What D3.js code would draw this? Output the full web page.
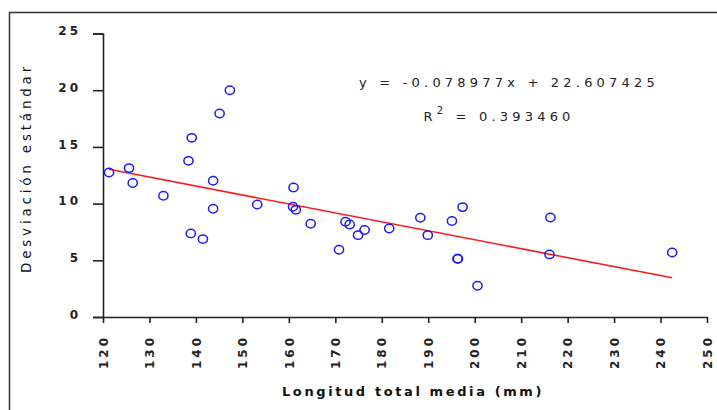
<!DOCTYPE html>
<html>
<head>
<meta charset="utf-8">
<script src="https://cdn.jsdelivr.net/npm/d3@7"></script>
<style>
  html, body { margin: 0; padding: 0; background: #fff; }
  svg { display: block; }
  .tick-label { font-family: "DejaVu Sans", sans-serif; font-size: 12px; font-weight: bold; fill: #222; letter-spacing: 3px; }
  .axis-title { font-family: "DejaVu Sans", sans-serif; fill: #111; }
  .eq { font-family: "DejaVu Sans", sans-serif; font-size: 13px; fill: #222; letter-spacing: 4.2px; }
</style>
</head>
<body>
<div id="chart"></div>
<script>
// data
var longitud = [121.3, 125.6, 126.4, 133.0, 138.4, 139.1, 145.1, 147.3, 143.7, 143.7,
  138.9, 141.5, 153.2, 161.0, 160.9, 161.5, 164.7, 170.8, 172.2, 173.1,
  174.9, 176.3, 181.6, 188.3, 189.9, 195.1, 197.4, 196.3, 196.4, 200.6,
  216.3, 216.1, 242.5];
var desviacion = [12.74, 13.13, 11.81, 10.69, 13.77, 15.80, 17.94, 20.0, 12.01, 9.54,
  7.37, 6.87, 9.92, 11.42, 9.72, 9.45, 8.22, 5.93, 8.40, 8.16,
  7.22, 7.67, 7.81, 8.75, 7.22, 8.46, 9.69, 5.14, 5.14, 2.76,
  8.78, 5.52, 5.69];
var xTicks = [120, 130, 140, 150, 160, 170, 180, 190, 200, 210, 220, 230, 240, 250];
var yTicks = [0, 5, 10, 15, 20, 25];
var slope = -0.078977;
var intercept = 22.607425;
var rSquared = '0.393460';

var width = 717, height = 410;
var margin = { left: 103, right: 10, top: 33.5, bottom: 93 };

var svg = d3.select('#chart')
  .append('svg')
  .attr('width', width)
  .attr('height', height);

// outer frame (runs off the right and bottom edges)
svg.append('rect')
  .attr('x', 9.5)
  .attr('y', 12.5)
  .attr('width', 720)
  .attr('height', 420)
  .attr('fill', 'none')
  .attr('stroke', '#333')
  .attr('stroke-width', 1.5);

var x = d3.scaleLinear().domain([120, 250]).range([margin.left, width - margin.right]);
var y = d3.scaleLinear().domain([0, 25]).range([height - margin.bottom, margin.top]);

// y axis
var yAxis = svg.append('g')
  .attr('transform', 'translate(' + margin.left + ',0)')
  .call(d3.axisLeft(y).tickValues(yTicks).tickSize(10).tickPadding(12));
yAxis.selectAll('text').attr('class', 'tick-label').attr('dy', '0.1em');

// x axis, labels turned upright
var xAxis = svg.append('g')
  .attr('transform', 'translate(0,' + y(0) + ')')
  .call(d3.axisBottom(x).tickValues(xTicks).tickSize(6).tickSizeOuter(0));
xAxis.selectAll('text')
  .attr('class', 'tick-label')
  .attr('transform', 'rotate(-90)')
  .attr('text-anchor', 'end')
  .attr('x', -18)
  .attr('y', 0)
  .attr('dy', '0.35em');

svg.selectAll('.domain, .tick line')
  .attr('stroke', '#222')
  .attr('stroke-width', 1.6);

// axis titles
svg.append('text')
  .attr('class', 'axis-title')
  .attr('x', 413)
  .attr('y', 396)
  .attr('text-anchor', 'middle')
  .style('font-size', '13px')
  .style('font-weight', 'bold')
  .style('letter-spacing', '2.6px')
  .text('Longitud total media (mm)');

svg.append('text')
  .attr('class', 'axis-title')
  .attr('transform', 'translate(31,168) rotate(-90)')
  .attr('text-anchor', 'middle')
  .style('font-size', '13.5px')
  .style('letter-spacing', '3.8px')
  .text('Desviación estándar');

// trend line over the range of the data
var xExt = d3.extent(longitud);
svg.append('line')
  .attr('x1', x(xExt[0]))
  .attr('y1', y(slope * xExt[0] + intercept))
  .attr('x2', x(xExt[1]))
  .attr('y2', y(slope * xExt[1] + intercept))
  .attr('stroke', '#ff1a1a')
  .attr('stroke-width', 1.6);

// the points
svg.append('g')
  .selectAll('ellipse')
  .data(longitud)
  .enter()
  .append('ellipse')
  .attr('cx', function (d) { return x(d); })
  .attr('cy', function (d, i) { return y(desviacion[i]); })
  .attr('rx', 4.6)
  .attr('ry', 4.2)
  .attr('fill', 'none')
  .attr('stroke', '#1a1aff')
  .attr('stroke-width', 1.5);

// equation
svg.append('text')
  .attr('class', 'eq')
  .attr('x', 509)
  .attr('y', 87)
  .attr('text-anchor', 'middle')
  .text('y = ' + slope.toFixed(6) + 'x + ' + intercept.toFixed(6));

var r2 = svg.append('text')
  .attr('class', 'eq')
  .attr('x', 499)
  .attr('y', 121)
  .attr('text-anchor', 'middle');
r2.append('tspan').text('R');
r2.append('tspan').attr('dy', -7).style('font-size', '10px').text('2');
r2.append('tspan').attr('dy', 7).text(' = ' + rSquared);
</script>
</body>
</html>
